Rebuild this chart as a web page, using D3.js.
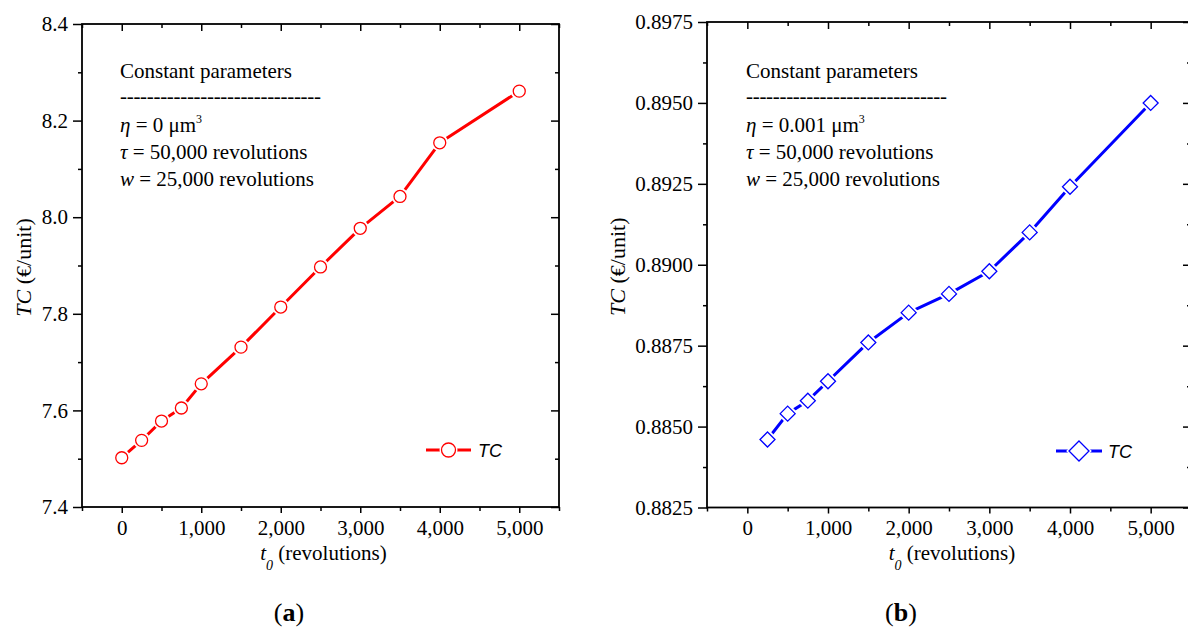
<!DOCTYPE html>
<html><head><meta charset="utf-8">
<script src="https://cdn.jsdelivr.net/npm/d3@7"></script>
<style>body{margin:0;background:#fff}svg{display:block}</style>
</head><body>
<svg id="c" width="1188" height="630"></svg>
<script>
// ---------- data ----------
const t0A = [0, 250, 500, 750, 1000, 1500, 2000, 2500, 3000, 3500, 4000, 5000];
const tcA = [7.502, 7.538, 7.578, 7.605, 7.655, 7.731, 7.814, 7.897, 7.977, 8.043, 8.154, 8.261];
const t0B = [250, 500, 750, 1000, 1500, 2000, 2500, 3000, 3500, 4000, 5000];
const tcB = [0.8846, 0.8854, 0.8858, 0.8864, 0.8876, 0.88852, 0.8891, 0.8898, 0.8910, 0.89241, 0.8950];
const xDomain = [-500, 5500];
const xMajorTicks = [0, 1000, 2000, 3000, 4000, 5000];
const xMinorTicks = [-500, 500, 1500, 2500, 3500, 4500, 5500];
const yDomainA = [7.4, 8.4];
const yMajorA = [7.4, 7.6, 7.8, 8.0, 8.2, 8.4];
const yMinorA = [7.5, 7.7, 7.9, 8.1, 8.3];
const yDomainB = [0.8825, 0.8975];
const yMajorB = [0.8825, 0.8850, 0.8875, 0.8900, 0.8925, 0.8950, 0.8975];
const yMinorB = [0.88375, 0.88625, 0.88875, 0.89125, 0.89375, 0.89625];
const etaA = "0", etaB = "0.001";
const tauText = "50,000 revolutions";
const wText = "25,000 revolutions";
const seriesName = "TC";

const svg = d3.select('#c');
svg.append('rect').attr('width', 1188).attr('height', 630).attr('fill', '#fff');
const SERIF = "'Liberation Serif','Times New Roman',serif";
const SANS = "'Liberation Sans',Arial,sans-serif";

const panels = [
  {xs: t0A, ys: tcA, left: 82, right: 559, top: 24, bottom: 507, yDomain: yDomainA,
   yMajor: yMajorA, yMinor: yMinorA, fmt: d3.format('.1f'), color: '#ff0000', shape: 'circle',
   eta: etaA, textX: 120, yTitleX: 31, caption: 'a', capX: 289,
   legLine: [426, 471], legY: 450, legSym: 448.5, legText: 478},
  {xs: t0B, ys: tcB, left: 707, right: 1191, top: 22, bottom: 507.5, yDomain: yDomainB,
   yMajor: yMajorB, yMinor: yMinorB, fmt: d3.format('.4f'), color: '#0000ff', shape: 'diamond',
   eta: etaB, textX: 746, yTitleX: 625, caption: 'b', capX: 901,
   legLine: [1056, 1102], legY: 451, legSym: 1079, legText: 1108}
];

function marker(sel, shape, size) {
  if (shape === 'circle') {
    return sel.append('circle').attr('r', size);
  }
  return sel.append('path').attr('d', `M0,${-size}L${size},0L0,${size}L${-size},0Z`);
}

function styleAxis(a) {
  a.select('.domain').remove();
  a.attr('font-family', SERIF).attr('font-size', 21);
  a.selectAll('line').attr('stroke', '#000').attr('stroke-width', 1.5);
  a.selectAll('text').attr('fill', '#000');
  return a;
}

panels.forEach(p => {
  const x = d3.scaleLinear().domain(xDomain).range([p.left, p.right]);
  const y = d3.scaleLinear().domain(p.yDomain).range([p.bottom, p.top]);
  const g = svg.append('g');

  // bottom axis (outward ticks)
  styleAxis(g.append('g').attr('transform', `translate(0,${p.bottom})`)
    .call(d3.axisBottom(x).tickValues(xMajorTicks).tickSize(6).tickPadding(7).tickFormat(d3.format(','))));
  styleAxis(g.append('g').attr('transform', `translate(0,${p.bottom})`)
    .call(d3.axisBottom(x).tickValues(xMinorTicks).tickSize(4).tickFormat('')));
  // top axis (inward ticks)
  styleAxis(g.append('g').attr('transform', `translate(0,${p.top})`)
    .call(d3.axisTop(x).tickValues(xMajorTicks).tickSize(-7).tickFormat('')));
  styleAxis(g.append('g').attr('transform', `translate(0,${p.top})`)
    .call(d3.axisTop(x).tickValues(xMinorTicks).tickSize(-4).tickFormat('')));
  // left axis (outward ticks)
  styleAxis(g.append('g').attr('transform', `translate(${p.left},0)`)
    .call(d3.axisLeft(y).tickValues(p.yMajor).tickSize(9).tickPadding(5).tickFormat(p.fmt)));
  styleAxis(g.append('g').attr('transform', `translate(${p.left},0)`)
    .call(d3.axisLeft(y).tickValues(p.yMinor).tickSize(4).tickFormat('')));
  // right axis (inward ticks)
  styleAxis(g.append('g').attr('transform', `translate(${p.right},0)`)
    .call(d3.axisRight(y).tickValues(p.yMajor).tickSize(-8).tickFormat('')));
  styleAxis(g.append('g').attr('transform', `translate(${p.right},0)`)
    .call(d3.axisRight(y).tickValues(p.yMinor).tickSize(-4).tickFormat('')));

  // frame
  g.append('rect').attr('x', p.left).attr('y', p.top)
    .attr('width', p.right - p.left).attr('height', p.bottom - p.top)
    .attr('fill', 'none').attr('stroke', '#000').attr('stroke-width', 1.8);

  // series line
  const pts = p.xs.map((v, i) => [v, p.ys[i]]);
  g.append('path').datum(pts)
    .attr('d', d3.line().x(d => x(d[0])).y(d => y(d[1])))
    .attr('fill', 'none').attr('stroke', p.color).attr('stroke-width', 3)
    .attr('stroke-linejoin', 'round');
  const mSize = p.shape === 'circle' ? 6 : 7.5;
  pts.forEach(d => {
    const m = g.append('g').attr('transform', `translate(${x(d[0])},${y(d[1])})`);
    marker(m, p.shape, mSize).attr('fill', '#fff').attr('stroke', '#fff').attr('stroke-width', 5);
    marker(m, p.shape, mSize).attr('fill', '#fff').attr('stroke', p.color).attr('stroke-width', 1.3);
  });

  // legend
  g.append('line').attr('x1', p.legLine[0]).attr('x2', p.legLine[1])
    .attr('y1', p.legY).attr('y2', p.legY)
    .attr('stroke', p.color).attr('stroke-width', 3);
  const lm = g.append('g').attr('transform', `translate(${p.legSym},${p.legY})`);
  const lSize = p.shape === 'circle' ? 7 : 10;
  marker(lm, p.shape, lSize).attr('fill', '#fff').attr('stroke', '#fff').attr('stroke-width', 4);
  marker(lm, p.shape, lSize).attr('fill', '#fff').attr('stroke', p.color).attr('stroke-width', 1.3);
  g.append('text').attr('x', p.legText).attr('y', p.legY + 6.5)
    .attr('font-family', SANS).attr('font-style', 'italic').attr('font-size', 18)
    .text(seriesName);

  // annotation
  const ann = g.append('g').attr('font-family', SERIF).attr('font-size', 21).attr('fill', '#000');
  ann.append('text').attr('x', p.textX).attr('y', 78).text('Constant parameters');
  ann.append('text').attr('x', p.textX).attr('y', 103)
    .attr('textLength', 201).attr('lengthAdjust', 'spacing')
    .text('------------------------------');
  const t1 = ann.append('text').attr('x', p.textX).attr('y', 132);
  t1.append('tspan').attr('font-style', 'italic').text('η');
  t1.append('tspan').text(` = ${p.eta} μm`);
  t1.append('tspan').attr('font-size', 12).attr('dy', -9).text('3');
  const t2 = ann.append('text').attr('x', p.textX).attr('y', 159);
  t2.append('tspan').attr('font-style', 'italic').text('τ');
  t2.append('tspan').text(' = ' + tauText);
  const t3 = ann.append('text').attr('x', p.textX).attr('y', 186);
  t3.append('tspan').attr('font-style', 'italic').text('w');
  t3.append('tspan').text(' = ' + wText);

  // y title
  const cy = (p.top + p.bottom) / 2 + 2;
  const yt = g.append('text').attr('transform', `translate(${p.yTitleX},${cy}) rotate(-90)`)
    .attr('text-anchor', 'middle').attr('font-family', SERIF).attr('font-size', 22);
  yt.append('tspan').attr('font-style', 'italic').text('TC');
  yt.append('tspan').text(' (€/unit)');

  // x title
  const cx = (p.left + p.right) / 2 + 3;
  const xt = g.append('text').attr('x', cx).attr('y', 560)
    .attr('text-anchor', 'middle').attr('font-family', SERIF).attr('font-size', 21);
  xt.append('tspan').attr('font-style', 'italic').text('t');
  xt.append('tspan').attr('font-style', 'italic').attr('font-size', 14).attr('dy', 10).text('0');
  xt.append('tspan').attr('dy', -10).text(' (revolutions)');

  // caption
  const cap = g.append('text').attr('x', p.capX).attr('y', 621)
    .attr('text-anchor', 'middle').attr('font-family', SERIF).attr('font-size', 26);
  cap.append('tspan').text('(');
  cap.append('tspan').attr('font-weight', 'bold').text(p.caption);
  cap.append('tspan').text(')');
});
</script>
</body></html>
